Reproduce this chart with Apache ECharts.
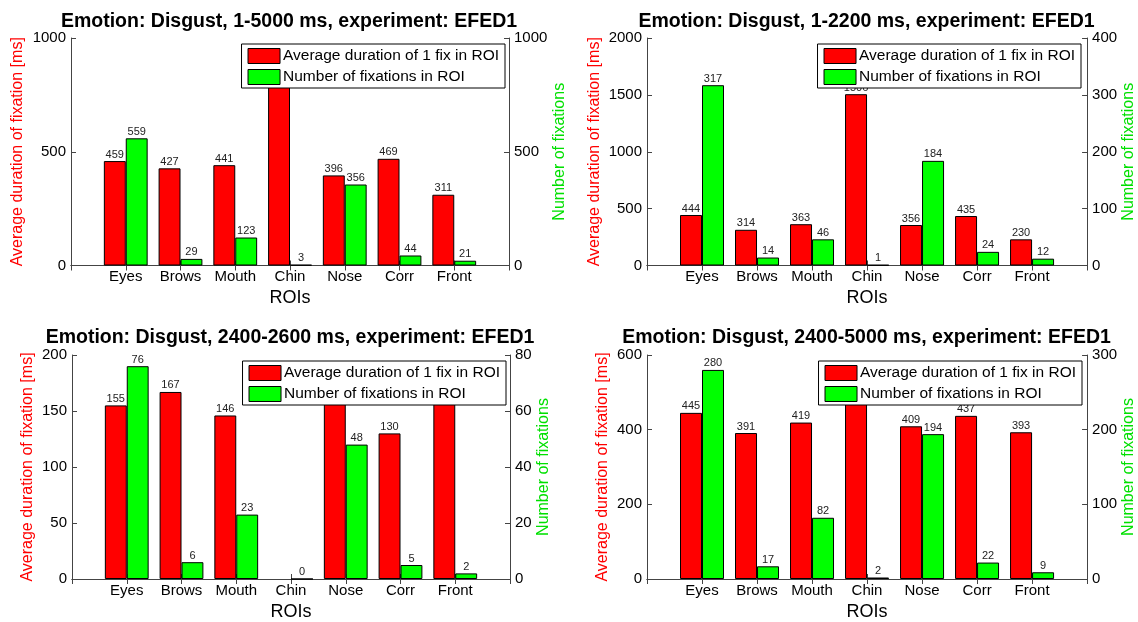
<!DOCTYPE html>
<html>
<head>
<meta charset="utf-8">
<script src="https://cdn.jsdelivr.net/npm/echarts@6/dist/echarts.min.js"></script>
<style>
	html, body { margin: 0; padding: 0; background: #fff; }
	#chart { width: 1138px; height: 622px; }
</style>
</head>
<body>
<div id="chart"></div>
<script>
(() => {

	const rois = ["Eyes", "Brows", "Mouth", "Chin", "Nose", "Corr", "Front"];

	const titles = [
		"Emotion: Disgust, 1-5000 ms, experiment: EFED1",
		"Emotion: Disgust, 1-2200 ms, experiment: EFED1",
		"Emotion: Disgust, 2400-2600 ms, experiment: EFED1",
		"Emotion: Disgust, 2400-5000 ms, experiment: EFED1"
	];

	// average duration of 1 fixation [ms] (tops hidden by the legend are estimates)
	const dur1to5000 = [459, 427, 441, 880, 396, 469, 311];
	const dur1to2200 = [444, 314, 363, 1506, 356, 435, 230];
	const dur2400to2600 = [155, 167, 146, null, 176, 130, 171];
	const dur2400to5000 = [445, 391, 419, 520, 409, 437, 393];

	// number of fixations
	const fix1to5000 = [559, 29, 123, 3, 356, 44, 21];
	const fix1to2200 = [317, 14, 46, 1, 184, 24, 12];
	const fix2400to2600 = [76, 6, 23, 0, 48, 5, 2];
	const fix2400to5000 = [280, 17, 82, 2, 194, 22, 9];

	// axis ranges: [max, interval]
	const leftTicks = [[1000, 500], [2000, 500], [200, 50], [600, 200]];
	const rightTicks = [[1000, 500], [400, 100], [80, 20], [300, 100]];

	const durName = "Average duration of 1 fix in ROI";
	const fixName = "Number of fixations in ROI";

	const durs = [dur1to5000, dur1to2200, dur2400to2600, dur2400to5000];
	const fixes = [fix1to5000, fix1to2200, fix2400to2600, fix2400to5000];

	// layout of the 4 panels
	const grids = [
		{left: 71, top: 38, width: 438, height: 227.5},
		{left: 647, top: 38, width: 441, height: 227.5},
		{left: 72, top: 355, width: 438, height: 227},
		{left: 647, top: 355, width: 441, height: 227}
	];
	const titleTops = [12, 12, 328, 328];
	const leftNameGap = [45, 44, 36, 36];
	const rightNameGap = [35, 28, 19, 27];
	const legendPos = [
		{right: 633, top: 44},
		{right: 57, top: 44},
		{right: 632, top: 361},
		{right: 56, top: 361}
	];

	const FONT = "Liberation Sans, Arial, sans-serif";
	const RED = "#ff0000";
	const GREEN = "#00ff00";
	const AXIS = "#444";

	const slots = [""].concat(rois, [""]);
	const pad = arr => [null].concat(arr, [null]);

	const option = {
		backgroundColor: "#fff",
		animation: false,
		textStyle: {fontFamily: FONT},
		title: [], grid: [], xAxis: [], yAxis: [], legend: [], series: []
	};

	grids.forEach((g, i) => {
		option.grid.push(Object.assign({containLabel: false}, g));

		option.title.push({
			text: titles[i],
			left: g.left + g.width / 2 - 1,
			top: titleTops[i],
			padding: 0,
			textAlign: "center",
			textStyle: {fontSize: 19.5, fontWeight: "bold", color: "#000", fontFamily: FONT}
		});

		const axisLine = {show: true, lineStyle: {color: AXIS, width: 1}};
		const tick = {show: true, inside: true, length: 5, lineStyle: {color: AXIS}};
		const tickLabel = {fontSize: 15, color: "#000", margin: 5, fontFamily: FONT, formatter: v => String(v)};

		// bottom x axis
		option.xAxis.push({
			type: "category", gridIndex: i, data: slots, boundaryGap: false,
			position: "bottom",
			axisLine: axisLine, axisTick: Object.assign({interval: 0}, tick),
			axisLabel: {interval: 0, fontSize: 15, color: "#000", margin: 4, fontFamily: FONT},
			name: "ROIs", nameLocation: "middle", nameGap: 24,
			nameTextStyle: {fontSize: 18, color: "#000", fontFamily: FONT},
			splitLine: {show: false}
		});
		// top x axis, only ticks (box)
		option.xAxis.push({
			type: "category", gridIndex: i, data: slots, boundaryGap: false,
			position: "top",
			axisLine: axisLine, axisTick: Object.assign({interval: 0}, tick),
			axisLabel: {show: false},
			splitLine: {show: false}
		});

		option.yAxis.push({
			type: "value", gridIndex: i, position: "left",
			min: 0, max: leftTicks[i][0], interval: leftTicks[i][1],
			axisLine: axisLine, axisTick: tick, axisLabel: tickLabel,
			splitLine: {show: false},
			name: "Average duration of fixation [ms]", nameLocation: "middle",
			nameRotate: 90, nameGap: leftNameGap[i],
			nameTextStyle: {fontSize: 16, color: RED, fontFamily: FONT}
		});
		option.yAxis.push({
			type: "value", gridIndex: i, position: "right",
			min: 0, max: rightTicks[i][0], interval: rightTicks[i][1],
			axisLine: axisLine, axisTick: tick, axisLabel: tickLabel,
			splitLine: {show: false},
			name: "Number of fixations", nameLocation: "middle",
			nameRotate: 90, nameGap: rightNameGap[i],
			nameTextStyle: {fontSize: 16, color: "#00e000", fontFamily: FONT}
		});

		const lbl = {show: true, position: "top", distance: 1, fontSize: 11, color: "#222", fontFamily: FONT};

		option.series.push({
			name: durName, type: "bar", xAxisIndex: 2 * i, yAxisIndex: 2 * i,
			data: pad(durs[i]), barWidth: "40%", barGap: "0%",
			itemStyle: {color: RED, borderColor: "#000", borderWidth: 1},
			label: lbl, z: 2
		});
		option.series.push({
			name: fixName, type: "bar", xAxisIndex: 2 * i, yAxisIndex: 2 * i + 1,
			data: pad(fixes[i]), barWidth: "40%", barGap: "0%",
			itemStyle: {color: GREEN, borderColor: "#000", borderWidth: 1},
			label: lbl, z: 2
		});

		option.legend.push(Object.assign({
			orient: "vertical",
			data: [durName, fixName],
			icon: "rect",
			itemWidth: 32, itemHeight: 15, itemGap: 5,
			padding: [4, 6, 3, 6],
			backgroundColor: "#fff",
			borderColor: "#000", borderWidth: 1, borderRadius: 0,
			itemStyle: {borderColor: "#000", borderWidth: 1},
			textStyle: {fontSize: 15.5, lineHeight: 16, color: "#000", fontFamily: FONT, padding: [0, 0, 0, -2]},
			selectedMode: false,
			z: 10
		}, legendPos[i]));
	});

	const myChart = echarts.init(document.getElementById("chart"));
	myChart.setOption(option);
})();
</script>
</body>
</html>
